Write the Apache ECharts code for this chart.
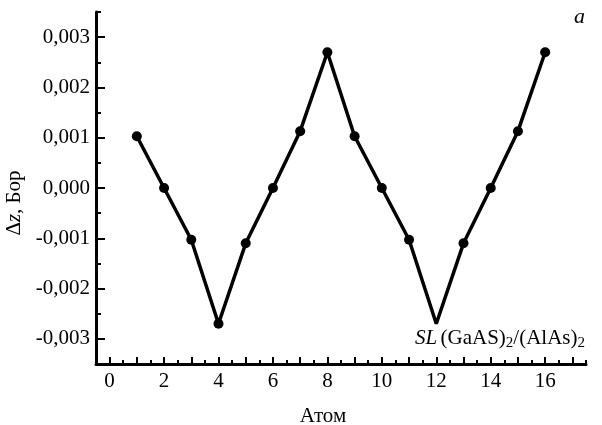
<!DOCTYPE html>
<html>
<head>
<meta charset="utf-8">
<script src="https://cdn.jsdelivr.net/npm/echarts@6/dist/echarts.min.js"></script>
<style>
  html, body { margin: 0; padding: 0; background: #fff; }
  #chart { width: 602px; height: 425px; }
</style>
</head>
<body>
<div id="chart"></div>
<script>
var atoms = [1, 2, 3, 4, 5, 6, 7, 8, 9, 10, 11, 12, 13, 14, 15, 16];
var dz = [0.00103, 0, -0.00103, -0.0027, -0.0011, 0, 0.00113, 0.0027,
          0.00103, 0, -0.00103, -0.0027, -0.0011, 0, 0.00113, 0.0027];
var hiddenMarkers = [12];

var yMajor = [-0.003, -0.002, -0.001, 0, 0.001, 0.002, 0.003];
var yMinor = [-0.0025, -0.0015, -0.0005, 0.0005, 0.0015, 0.0025, 0.0035];
var xMajor = [0, 1, 2, 3, 4, 5, 6, 7, 8, 9, 10, 11, 12, 13, 14, 15, 16, 17];
var xMinor = [0.5, 1.5, 2.5, 3.5, 4.5, 5.5, 6.5, 7.5, 8.5, 9.5, 10.5, 11.5, 12.5, 13.5, 14.5, 15.5, 16.5, 17.5];
var xLabels = [0, 2, 4, 6, 8, 10, 12, 14, 16];

var font = 'Liberation Serif';

function fmtY(v) {
  return v.toFixed(3).replace('.', ',');
}

var seriesData = [];
atoms.forEach(function (a, i) {
  var item = { value: [a, dz[i]] };
  if (hiddenMarkers.indexOf(a) >= 0) item.symbolSize = 0;
  seriesData.push(item);
});

var option = {
  animation: false,
  backgroundColor: '#fff',
  grid: { left: 96, right: 16, top: 12, bottom: 61, containLabel: false, outerBoundsMode: 'none' },
  xAxis: [
    {
      type: 'value',
      min: -0.5,
      max: 17.5,
      name: 'Атом',
      nameLocation: 'middle',
      nameGap: 42,
      nameTextStyle: { fontFamily: font, fontSize: 21, color: '#000', padding: [0, 36, 0, 0] },
      axisLine: { show: true, onZero: false, lineStyle: { color: '#000', width: 3 } },
      axisTick: { show: true, inside: true, length: 7, customValues: xMajor, lineStyle: { color: '#000', width: 2 } },
      axisLabel: { customValues: xLabels, margin: 7, fontFamily: font, fontSize: 21, color: '#000' },
      splitLine: { show: false }
    },
    {
      type: 'value',
      min: -0.5,
      max: 17.5,
      position: 'bottom',
      axisLine: { show: false, onZero: false },
      axisTick: { show: true, inside: true, length: 4, customValues: xMinor, lineStyle: { color: '#000', width: 2 } },
      axisLabel: { show: false },
      splitLine: { show: false }
    }
  ],
  yAxis: [
    {
      type: 'value',
      min: -0.0035,
      max: 0.0035,
      name: '{d|Δ}{i|z}{n|, Бор}',
      nameLocation: 'middle',
      nameRotate: 90,
      nameGap: 65,
      nameTextStyle: {
        color: '#000',
        padding: [0, 0, 0, -30],
        rich: {
          d: { fontFamily: font, fontSize: 21, color: '#000' },
          i: { fontFamily: font, fontSize: 21, fontStyle: 'italic', color: '#000' },
          n: { fontFamily: font, fontSize: 21, color: '#000' }
        }
      },
      axisLine: { show: true, onZero: false, lineStyle: { color: '#000', width: 3 } },
      axisTick: { show: true, inside: true, length: 9, customValues: yMajor, lineStyle: { color: '#000', width: 2 } },
      axisLabel: { customValues: yMajor, margin: 6, fontFamily: font, fontSize: 21, color: '#000', formatter: fmtY },
      splitLine: { show: false }
    },
    {
      type: 'value',
      min: -0.0035,
      max: 0.0035,
      position: 'left',
      axisLine: { show: false, onZero: false },
      axisTick: { show: true, inside: true, length: 5, customValues: yMinor, lineStyle: { color: '#000', width: 2 } },
      axisLabel: { show: false },
      splitLine: { show: false }
    }
  ],
  graphic: [
    {
      type: 'text',
      left: 574,
      top: 6,
      style: { text: 'a', fontFamily: font, fontSize: 22, fontStyle: 'italic', fill: '#000' }
    },
    {
      type: 'text',
      left: 415,
      top: 328,
      style: {
        text: '{i|SL} {n|(GaAS)}{s|2}{n|/(AlAs)}{s|2}',
        rich: {
          i: { fontFamily: font, fontSize: 21, fontStyle: 'italic', fill: '#000' },
          n: { fontFamily: font, fontSize: 21, fill: '#000' },
          s: { fontFamily: font, fontSize: 15, fill: '#000', padding: [10, 0, 0, 0] }
        }
      }
    }
  ],
  series: [
    {
      type: 'line',
      xAxisIndex: 0,
      yAxisIndex: 0,
      data: seriesData,
      symbol: 'circle',
      symbolSize: 10,
      itemStyle: { color: '#000' },
      lineStyle: { color: '#000', width: 3.5 },
      z: 5
    }
  ]
};

echarts.init(document.getElementById('chart')).setOption(option);
</script>
</body>
</html>
